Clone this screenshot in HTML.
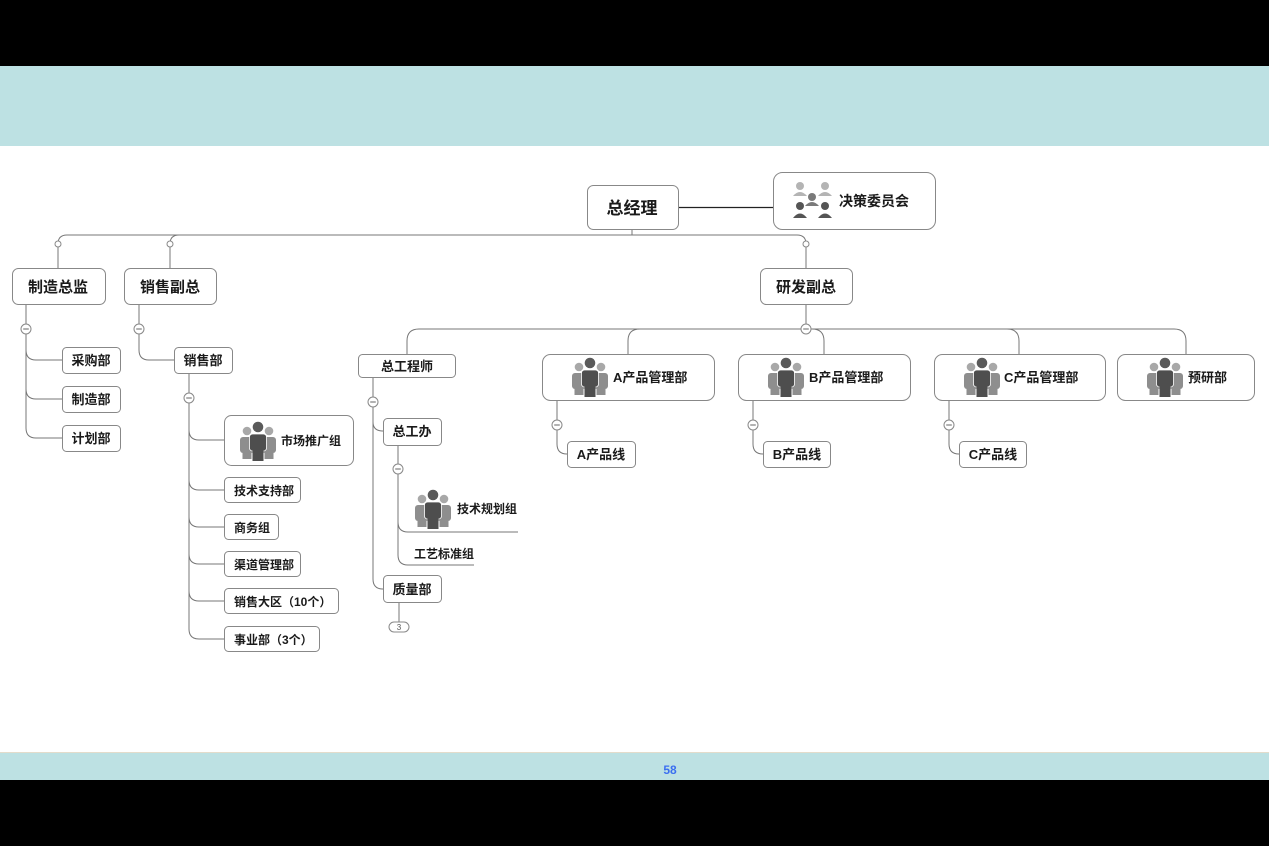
<!DOCTYPE html>
<html><head><meta charset="utf-8"><style>
html,body{margin:0;padding:0;background:#000;}
svg{display:block;}
text{font-family:"Liberation Sans","Noto Sans CJK SC",sans-serif;font-weight:bold;fill:#1a1a1a;}
</style></head><body>
<svg width="1269" height="846" viewBox="0 0 1269 846" xmlns="http://www.w3.org/2000/svg">
<defs>
<g id="ppl">
 <circle cx="8" cy="10" r="4.3" fill="#a8a8a8"/>
 <rect x="1" y="16" width="14" height="16" rx="3" fill="#8e8e8e"/>
 <rect x="3.5" y="29" width="9" height="9" fill="#8e8e8e"/>
 <circle cx="30" cy="10" r="4.3" fill="#a8a8a8"/>
 <rect x="23" y="16" width="14" height="16" rx="3" fill="#8e8e8e"/>
 <rect x="25.5" y="29" width="9" height="9" fill="#8e8e8e"/>
 <circle cx="19" cy="6" r="5.3" fill="#5a5a5a"/>
 <rect x="10.5" y="13" width="17" height="17" rx="3" fill="#4e4e4e" stroke="#fff" stroke-width="0.8"/>
 <rect x="13.5" y="28" width="11" height="12" fill="#4e4e4e"/>
</g>
<g id="minus"><circle r="5" fill="#fff" stroke="#888" stroke-width="1"/><line x1="-2.8" x2="2.8" y1="0" y2="0" stroke="#666" stroke-width="1"/></g>
</defs>
<rect x="0" y="0" width="1269" height="846" fill="#000"/>
<rect x="0" y="66" width="1269" height="80" fill="#bde1e3"/>
<rect x="0" y="146" width="1269" height="606" fill="#fff"/>
<rect x="0" y="752" width="1269" height="28" fill="#bde1e3"/>
<line x1="0" y1="752.5" x2="1269" y2="752.5" stroke="#e3dccb"/>
<text x="670" y="774" text-anchor="middle" font-size="12" style="fill:#3b6ff0">58</text>

<g fill="none" stroke="#777" stroke-width="1">
 <!-- top trunk -->
 <line x1="632" y1="229" x2="632" y2="235"/>
 <path d="M58 268 V244 Q58 235 67 235 H797 Q806 235 806 244 V268"/>
 <path d="M170 268 V244 Q170 235 179 235"/>
 <!-- 制造总监 -->
 <path d="M26 304 V350 Q26 360 36 360 H62"/>
 <path d="M26 350 V389 Q26 399 36 399 H62"/>
 <path d="M26 389 V428 Q26 438 36 438 H62"/>
 <!-- 销售副总 -->
 <path d="M139 304 V350 Q139 360 149 360 H174"/>
 <!-- 销售部 -->
 <path d="M189 373 V430 Q189 440 199 440 H224"/>
 <path d="M189 430 V480 Q189 490 199 490 H224"/>
 <path d="M189 480 V517 Q189 527 199 527 H224"/>
 <path d="M189 517 V554 Q189 564 199 564 H224"/>
 <path d="M189 554 V591 Q189 601 199 601 H224"/>
 <path d="M189 591 V629 Q189 639 199 639 H224"/>
 <!-- 研发副总 -->
 <line x1="806" y1="304" x2="806" y2="329"/>
 <path d="M407 354 V341 Q407 329 419 329 H1174 Q1186 329 1186 341 V354"/>
 <path d="M628 354 V341 Q628 329 640 329"/>
 <path d="M812 329 Q824 329 824 341 V354"/>
 <path d="M1007 329 Q1019 329 1019 341 V354"/>
 <!-- 总工程师 -->
 <path d="M373 377 V422 Q373 431 383 431"/>
 <path d="M373 422 V579 Q373 589 383 589"/>
 <line x1="399" y1="602" x2="399" y2="622"/>
 <!-- 总工办 -->
 <path d="M398 445 V522 Q398 532 408 532 H518"/>
 <path d="M398 522 V555 Q398 565 408 565 H474"/>
 <!-- A B C -->
 <path d="M557 400 V444 Q557 454 567 454"/>
 <path d="M753 400 V444 Q753 454 763 454"/>
 <path d="M949 400 V444 Q949 454 959 454"/>
</g>
<line x1="678" y1="207.5" x2="773" y2="207.5" stroke="#222" stroke-width="1.3"/>
<g fill="#fff" stroke="#888"><circle cx="58" cy="244" r="3"/><circle cx="170" cy="244" r="3"/><circle cx="806" cy="244" r="3"/></g>
<use href="#minus" x="26" y="329"/><use href="#minus" x="139" y="329"/><use href="#minus" x="189" y="398"/>
<use href="#minus" x="806" y="329"/><use href="#minus" x="373" y="402"/><use href="#minus" x="398" y="469"/>
<use href="#minus" x="557" y="425"/><use href="#minus" x="753" y="425"/><use href="#minus" x="949" y="425"/>
<rect x="389" y="622" width="20" height="10" rx="5" fill="#fff" stroke="#888"/>
<text x="399" y="630" text-anchor="middle" font-size="8" style="font-weight:normal;fill:#555">3</text>

<g fill="#fff" stroke="#888" stroke-width="1">
 <rect x="587.5" y="185.5" width="91" height="44" rx="6"/>
 <rect x="773.5" y="172.5" width="162" height="57" rx="9"/>
 <rect x="12.5" y="268.5" width="93" height="36" rx="6"/>
 <rect x="124.5" y="268.5" width="92" height="36" rx="6"/>
 <rect x="760.5" y="268.5" width="92" height="36" rx="6"/>
 <rect x="62.5" y="347.5" width="58" height="26" rx="4"/>
 <rect x="62.5" y="386.5" width="58" height="26" rx="4"/>
 <rect x="62.5" y="425.5" width="58" height="26" rx="4"/>
 <rect x="174.5" y="347.5" width="58" height="26" rx="4"/>
 <rect x="224.5" y="415.5" width="129" height="50" rx="7"/>
 <rect x="224.5" y="477.5" width="76" height="25" rx="4"/>
 <rect x="224.5" y="514.5" width="54" height="25" rx="4"/>
 <rect x="224.5" y="551.5" width="76" height="25" rx="4"/>
 <rect x="224.5" y="588.5" width="114" height="25" rx="4"/>
 <rect x="224.5" y="626.5" width="95" height="25" rx="4"/>
 <rect x="358.5" y="354.5" width="97" height="23" rx="4"/>
 <rect x="383.5" y="418.5" width="58" height="27" rx="4"/>
 <rect x="383.5" y="575.5" width="58" height="27" rx="4"/>
 <rect x="542.5" y="354.5" width="172" height="46" rx="8"/>
 <rect x="738.5" y="354.5" width="172" height="46" rx="8"/>
 <rect x="934.5" y="354.5" width="171" height="46" rx="8"/>
 <rect x="1117.5" y="354.5" width="137" height="46" rx="8"/>
 <rect x="567.5" y="441.5" width="68" height="26" rx="4"/>
 <rect x="763.5" y="441.5" width="67" height="26" rx="4"/>
 <rect x="959.5" y="441.5" width="67" height="26" rx="4"/>
</g>

<!-- committee icon -->
<g>
 <circle cx="800" cy="186" r="4" fill="#b4b4b4"/><path d="M793 196 q7 -8 14 0z" fill="#b4b4b4"/>
 <circle cx="825" cy="186" r="4" fill="#b4b4b4"/><path d="M818 196 q7 -8 14 0z" fill="#b4b4b4"/>
 <circle cx="812" cy="197" r="4" fill="#7a7a7a"/><path d="M805 206 q7 -8 14 0z" fill="#7a7a7a"/>
 <circle cx="800" cy="206" r="4" fill="#555"/><path d="M793 218 q7 -9 14 0z" fill="#555"/>
 <circle cx="825" cy="206" r="4" fill="#555"/><path d="M818 218 q7 -9 14 0z" fill="#555"/>
</g>
<use href="#ppl" x="239" y="421"/>
<use href="#ppl" x="414" y="489"/>
<use href="#ppl" x="571" y="357"/>
<use href="#ppl" x="767" y="357"/>
<use href="#ppl" x="963" y="357"/>
<use href="#ppl" x="1146" y="357"/>

<text x="632" y="214" text-anchor="middle" font-size="17">总经理</text>
<text x="839" y="206" font-size="14">决策委员会</text>
<text x="58" y="292" text-anchor="middle" font-size="15">制造总监</text>
<text x="170" y="292" text-anchor="middle" font-size="15">销售副总</text>
<text x="806" y="292" text-anchor="middle" font-size="15">研发副总</text>
<g font-size="13">
<text x="91" y="365" text-anchor="middle">采购部</text>
<text x="91" y="404" text-anchor="middle">制造部</text>
<text x="91" y="443" text-anchor="middle">计划部</text>
<text x="203" y="365" text-anchor="middle">销售部</text>
<text x="407" y="371" text-anchor="middle">总工程师</text>
<text x="412" y="436" text-anchor="middle">总工办</text>
<text x="412" y="594" text-anchor="middle">质量部</text>
<text x="613" y="382">A产品管理部</text>
<text x="809" y="382">B产品管理部</text>
<text x="1004" y="382">C产品管理部</text>
<text x="1188" y="382">预研部</text>
<text x="601" y="459" text-anchor="middle">A产品线</text>
<text x="797" y="459" text-anchor="middle">B产品线</text>
<text x="993" y="459" text-anchor="middle">C产品线</text>
</g>
<g font-size="12">
<text x="281" y="445">市场推广组</text>
<text x="234" y="495">技术支持部</text>
<text x="234" y="532">商务组</text>
<text x="234" y="569">渠道管理部</text>
<text x="234" y="606">销售大区（10个）</text>
<text x="234" y="644">事业部（3个）</text>
<text x="457" y="513">技术规划组</text>
<text x="414" y="558">工艺标准组</text>
</g>
</svg>
</body></html>
